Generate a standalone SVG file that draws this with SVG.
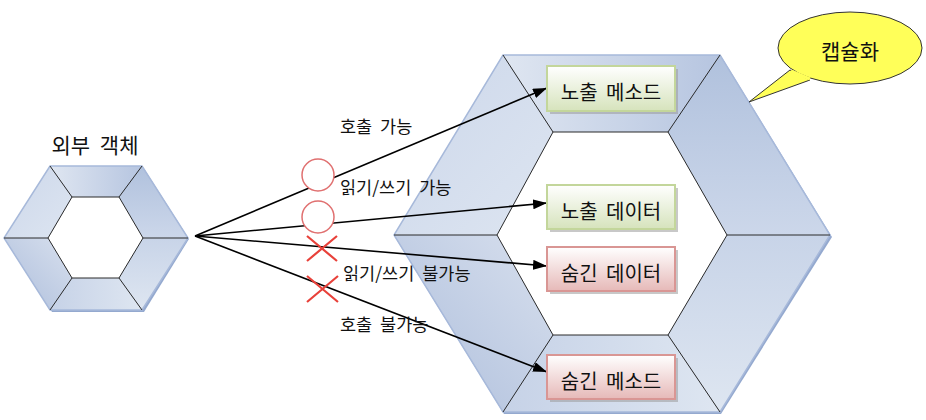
<svg xmlns="http://www.w3.org/2000/svg" width="926" height="420" viewBox="0 0 926 420">
<defs>
<linearGradient id="gA" x1="0" y1="0" x2="1" y2="0"><stop offset="0" stop-color="#dfe6f1"/><stop offset="1" stop-color="#b6c5e0"/></linearGradient>
<linearGradient id="gB" x1="0" y1="0" x2="0" y2="1"><stop offset="0" stop-color="#b0c1dd"/><stop offset="1" stop-color="#ccd7ea"/></linearGradient>
<linearGradient id="gC" x1="0" y1="0" x2="0" y2="1"><stop offset="0" stop-color="#c8d4e8"/><stop offset="1" stop-color="#dee6f1"/></linearGradient>
<linearGradient id="gD" x1="0" y1="0" x2="1" y2="0"><stop offset="0" stop-color="#c6d2e7"/><stop offset="1" stop-color="#dee6f1"/></linearGradient>
<linearGradient id="gE" x1="1" y1="0" x2="0" y2="1"><stop offset="0" stop-color="#d8e0ee"/><stop offset="1" stop-color="#acbddb"/></linearGradient>
<linearGradient id="gF" x1="0" y1="0" x2="1" y2="1"><stop offset="0" stop-color="#ccd7ea"/><stop offset="1" stop-color="#dde5f1"/></linearGradient>
<linearGradient id="gGreen" x1="0" y1="0" x2="0" y2="1"><stop offset="0" stop-color="#ffffff"/><stop offset="1" stop-color="#d6e3bc"/></linearGradient>
<linearGradient id="gRed" x1="0" y1="0" x2="0" y2="1"><stop offset="0" stop-color="#ffffff"/><stop offset="1" stop-color="#e6b9b8"/></linearGradient>
<marker id="arr" viewBox="0 0 14 10" refX="14" refY="5" markerWidth="14" markerHeight="10" markerUnits="userSpaceOnUse" orient="auto">
<path d="M0,0 L14,5 L0,10 Z" fill="#000"/>
</marker>
</defs>
<style>
.sp{stroke:#2b2b2b;stroke-width:1;fill:none}
.hole{stroke:#2b2b2b;stroke-width:1;fill:#fff}
.edge{fill:none;stroke:#a7b9da;stroke-width:1.5}
.shadow{fill:#94a9cf}
.t{font-family:"Noto Sans CJK KR","Noto Sans",sans-serif;fill:#111}
.lbl{font-size:17.5px;word-spacing:4px}
.box{font-size:20px;word-spacing:4px}
.conn{stroke:#000;stroke-width:1.6;fill:none;marker-end:url(#arr)}
.ok{fill:#fff;stroke:#e07070;stroke-width:1.5}
.no{stroke:#e8413a;stroke-width:2.2;fill:none}
.bs{fill:#9a9a9a;opacity:0.55}
</style>
<rect width="926" height="420" fill="#fff"/>

<g id="outer-object">
<text class="t" x="95" y="153" font-size="21" text-anchor="middle" word-spacing="5">외부 객체</text>
<polygon class="shadow" points="51,167 143,167 189,239 144,312 52,312 5,239"/>
<polygon points="50,166 142,166 119,197 72,197" fill="url(#gA)"/>
<polygon points="142,166 188,238 143,238 119,197" fill="url(#gB)"/>
<polygon points="188,238 142,310 119,278 143,238" fill="url(#gC)"/>
<polygon points="142,310 50,310 72,278 119,278" fill="url(#gD)"/>
<polygon points="50,310 4,238 48,238 72,278" fill="url(#gE)"/>
<polygon points="4,238 50,166 72,197 48,238" fill="url(#gF)"/>
<polygon class="edge" points="50,166 142,166 188,238 142,310 50,310 4,238"/>
<polygon class="hole" points="72,197 119,197 143,238 119,278 72,278 48,238"/>
<path class="sp" d="M50,166 L72,197 M142,166 L119,197 M188,238 L143,238 M142,310 L119,278 M50,310 L72,278 M4,238 L48,238"/>
</g>

<g id="capsule">
<polygon class="shadow" points="504,56 721,56 832,237 721,414 504,414 395,237"/>
<polygon points="503,55 720,55 668,132 553,132" fill="url(#gA)"/>
<polygon points="720,55 830,235 727,235 668,132" fill="url(#gB)"/>
<polygon points="830,235 720,412 668,335 727,235" fill="url(#gC)"/>
<polygon points="720,412 503,412 553,335 668,335" fill="url(#gD)"/>
<polygon points="503,412 394,235 497,235 553,335" fill="url(#gE)"/>
<polygon points="394,235 503,55 553,132 497,235" fill="url(#gF)"/>
<polygon class="edge" points="503,55 720,55 830,235 720,412 503,412 394,235"/>
<polygon class="hole" points="553,132 668,132 727,235 668,335 553,335 497,235"/>
<path class="sp" d="M503,55 L553,132 M720,55 L668,132 M830,235 L727,235 M720,412 L668,335 M503,412 L553,335 M394,235 L497,235"/>
</g>

<g id="callout">
<path d="M790,70 L749,102 L810,80 Z" fill="#ffff59" stroke="#333" stroke-width="1"/>
<ellipse cx="850" cy="48" rx="72" ry="36" fill="#ffff59" stroke="#333" stroke-width="1"/>
<path d="M791,71 L810,79" stroke="#ffff59" stroke-width="3"/>
<text class="t" x="850" y="59" font-size="21" text-anchor="middle">캡슐화</text>
</g>

<g id="connectors">
<line class="conn" x1="195" y1="236" x2="547" y2="88"/>
<line class="conn" x1="195" y1="236" x2="547" y2="203"/>
<line class="conn" x1="195" y1="236" x2="547" y2="266"/>
<line class="conn" x1="195" y1="236" x2="547" y2="372"/>
<circle class="ok" cx="318" cy="175" r="16"/>
<circle class="ok" cx="318" cy="217" r="16"/>
<path class="no" d="M307,236 L337,261 M337,236 L307,261"/>
<path class="no" d="M307,276 L338,302 M338,276 L307,302"/>
<text class="t lbl" x="340" y="133">호출 가능</text>
<text class="t lbl" x="340" y="194">읽기/쓰기 가능</text>
<text class="t lbl" x="343" y="280">읽기/쓰기 불가능</text>
<text class="t lbl" x="340" y="331">호출 불가능</text>
</g>

<g id="exposed-method">
<rect class="bs" x="550" y="69" width="128" height="45"/>
<rect x="547" y="66" width="128" height="45" fill="url(#gGreen)" stroke="#c3d69b" stroke-width="2"/>
<text class="t box" x="611" y="100" text-anchor="middle">노출 메소드</text>
</g>
<g id="exposed-data">
<rect class="bs" x="550" y="188" width="128" height="44"/>
<rect x="547" y="185" width="128" height="44" fill="url(#gGreen)" stroke="#c3d69b" stroke-width="2"/>
<text class="t box" x="611" y="219" text-anchor="middle">노출 데이터</text>
</g>
<g id="hidden-data">
<rect class="bs" x="550" y="250" width="128" height="44"/>
<rect x="547" y="247" width="128" height="44" fill="url(#gRed)" stroke="#d99694" stroke-width="2"/>
<text class="t box" x="611" y="281" text-anchor="middle">숨긴 데이터</text>
</g>
<g id="hidden-method">
<rect class="bs" x="550" y="358" width="128" height="44"/>
<rect x="547" y="355" width="128" height="44" fill="url(#gRed)" stroke="#d99694" stroke-width="2"/>
<text class="t box" x="611" y="389" text-anchor="middle">숨긴 메소드</text>
</g>
</svg>
